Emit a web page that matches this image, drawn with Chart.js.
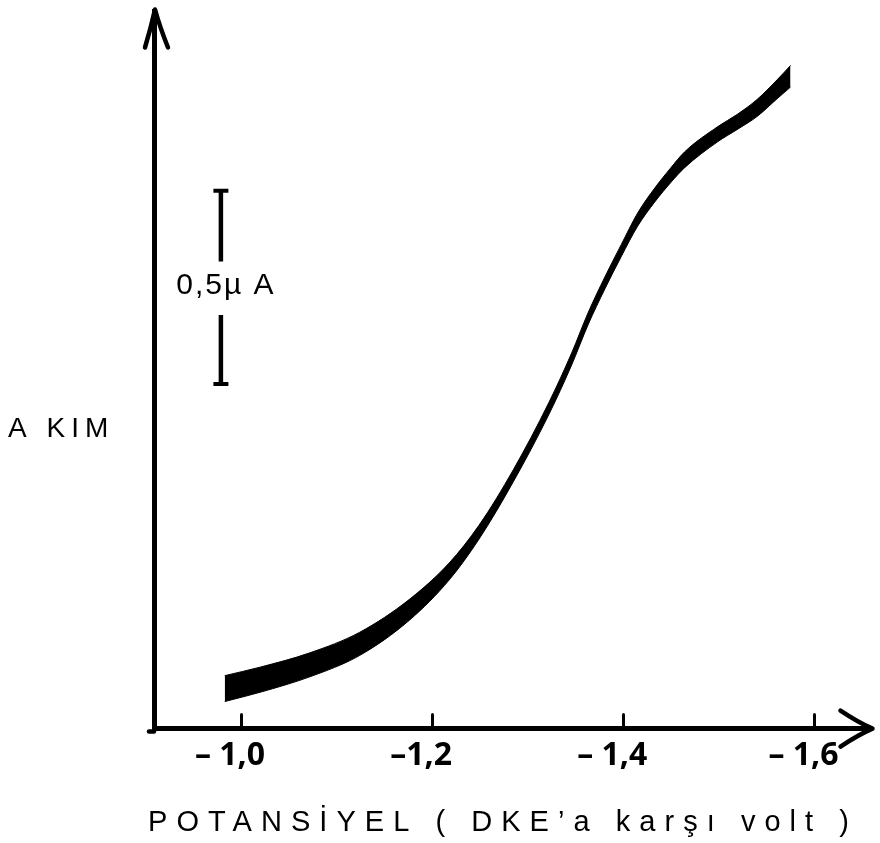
<!DOCTYPE html>
<html>
<head>
<meta charset="utf-8">
<script src="https://cdn.jsdelivr.net/npm/chart.js@4.4.1/dist/chart.umd.min.js"></script>
<style>
  html, body { margin: 0; padding: 0; background: #fff; }
  #wrap { width: 880px; height: 843px; position: relative; }
</style>
</head>
<body>
<div id="wrap"><canvas id="c" width="880" height="843"></canvas></div>
<script>
// Potential (V vs. SCE) sampled along the recorded polarographic wave
const potential = [-0.983, -1.020, -1.072, -1.124, -1.176, -1.218, -1.249, -1.285, -1.322, -1.346, -1.363,
                   -1.381, -1.398, -1.415, -1.433, -1.450, -1.464, -1.499, -1.519, -1.540, -1.561, -1.575];
// Upper and lower edge of the oscillating current trace (µA)
const currentUpper = [0.137, 0.159, 0.196, 0.249, 0.334, 0.429, 0.526, 0.670, 0.843, 0.972, 1.075,
                      1.170, 1.253, 1.334, 1.399, 1.452, 1.492, 1.558, 1.589, 1.628, 1.679, 1.716];
const currentLower = [0.070, 0.094, 0.134, 0.189, 0.280, 0.385, 0.490, 0.639, 0.812, 0.941, 1.044,
                      1.139, 1.222, 1.300, 1.363, 1.414, 1.451, 1.519, 1.550, 1.584, 1.630, 1.660];

// Potential axis ticks
const tickValues = [-1.0, -1.2, -1.4, -1.6];
const tickLabels = ['– 1,0', '–1,2', '– 1,4', '– 1,6'];

// 0,5 µA calibration bar (split around its label)
const barPotential = -0.979;
const barUpperPart = [1.392, 1.209];
const barLowerPart = [1.070, 0.892];
const barLabel = '0,5µ A';

const xTitle = 'POTANSİYEL ( DKE’a karşı volt )';
const yTitle = 'A KIM';

const toPoints = (xs, ys) => xs.map((v, i) => ({ x: v, y: ys[i] }));

const decorations = {
  id: 'decorations',
  afterDraw(chart) {
    const { ctx, chartArea: { left, right, top, bottom }, scales: { x, y } } = chart;
    ctx.save();
    ctx.strokeStyle = '#000';
    ctx.fillStyle = '#000';
    ctx.lineCap = 'round';
    ctx.lineJoin = 'round';

    // tick marks standing up from the potential axis
    ctx.lineWidth = 3;
    tickValues.forEach(v => {
      const px = Math.round(x.getPixelForValue(v)) + 0.5;
      ctx.beginPath();
      ctx.moveTo(px, bottom);
      ctx.lineTo(px, bottom - 14);
      ctx.stroke();
    });

    // arrow heads on both axes
    ctx.lineWidth = 4.5;
    ctx.beginPath();
    ctx.moveTo(left - 9, top + 36);
    ctx.quadraticCurveTo(left - 3, top + 16, left + 1, top - 2);
    ctx.quadraticCurveTo(left + 6, top + 16, left + 14, top + 36);
    ctx.stroke();
    ctx.beginPath();
    ctx.moveTo(left, bottom + 3);
    ctx.lineTo(left - 5, bottom + 3);
    ctx.stroke();

    ctx.beginPath();
    ctx.moveTo(right - 28, bottom - 18);
    ctx.quadraticCurveTo(right - 10, bottom - 6, right + 4, bottom);
    ctx.quadraticCurveTo(right - 10, bottom + 6, right - 28, bottom + 18);
    ctx.stroke();

    // calibration bar label
    ctx.font = '30px "Liberation Sans", Arial, sans-serif';
    ctx.letterSpacing = '2px';
    ctx.textAlign = 'center';
    ctx.textBaseline = 'alphabetic';
    const midPx = y.getPixelForValue((barUpperPart[1] + barLowerPart[0]) / 2);
    ctx.fillText(barLabel, x.getPixelForValue(barPotential) + 5, midPx + 6);

    // current axis label
    ctx.textAlign = 'left';
    ctx.font = '28px "Liberation Sans", Arial, sans-serif';
    ctx.letterSpacing = '6px';
    ctx.fillText(yTitle, 8, 437);

    // potential axis title, letter-spaced across the axis
    ctx.font = '29px "Liberation Sans", Arial, sans-serif';
    ctx.letterSpacing = '0px';
    const plain = ctx.measureText(xTitle).width;
    const n = Array.from(xTitle).length;
    const spacing = (710 - plain) / n;
    ctx.letterSpacing = spacing.toFixed(2) + 'px';
    ctx.fillText(xTitle, 148, 831);

    ctx.restore();
  }
};

const traceStyle = {
  borderColor: '#000',
  borderWidth: 1,
  pointRadius: 0,
  cubicInterpolationMode: 'monotone'
};

new Chart(document.getElementById('c'), {
  type: 'line',
  data: {
    datasets: [
      Object.assign({ data: toPoints(potential, currentUpper), backgroundColor: '#000', fill: '+1' }, traceStyle),
      Object.assign({ data: toPoints(potential, currentLower), fill: false }, traceStyle),
      {
        data: toPoints([barPotential, barPotential], barUpperPart),
        borderColor: '#000',
        borderWidth: 4.5,
        pointStyle: 'line',
        pointRadius: [7.5, 0],
        pointBorderWidth: 4,
        pointBorderColor: '#000',
        fill: false
      },
      {
        data: toPoints([barPotential, barPotential], barLowerPart),
        borderColor: '#000',
        borderWidth: 4.5,
        pointStyle: 'line',
        pointRadius: [0, 7.5],
        pointBorderWidth: 4,
        pointBorderColor: '#000',
        fill: false
      }
    ]
  },
  options: {
    responsive: false,
    animation: false,
    events: [],
    layout: { padding: { left: 146, right: 8, top: 7, bottom: 68 } },
    plugins: { legend: { display: false }, tooltip: { enabled: false } },
    scales: {
      x: {
        type: 'linear',
        reverse: true,
        min: -1.6566,
        max: -0.9090,
        grid: { display: false },
        border: { display: true, color: '#000', width: 5 },
        afterBuildTicks: scale => { scale.ticks = tickValues.map(v => ({ value: v })); },
        ticks: {
          color: '#000',
          padding: 0,
          labelOffset: -11,
          maxRotation: 0,
          autoSkip: false,
          font: { family: '"Liberation Sans Narrow", "Noto Sans", "DejaVu Sans", sans-serif', size: 32, weight: 'bold condensed' },
          callback: v => {
            const i = tickValues.findIndex(t => Math.abs(t - v) < 1e-6);
            return i >= 0 ? tickLabels[i] : '';
          }
        }
      },
      y: {
        type: 'linear',
        min: 0,
        max: 1.8557,
        grid: { display: false },
        border: { display: true, color: '#000', width: 5 },
        ticks: { display: false }
      }
    }
  },
  plugins: [decorations]
});
</script>
</body>
</html>
